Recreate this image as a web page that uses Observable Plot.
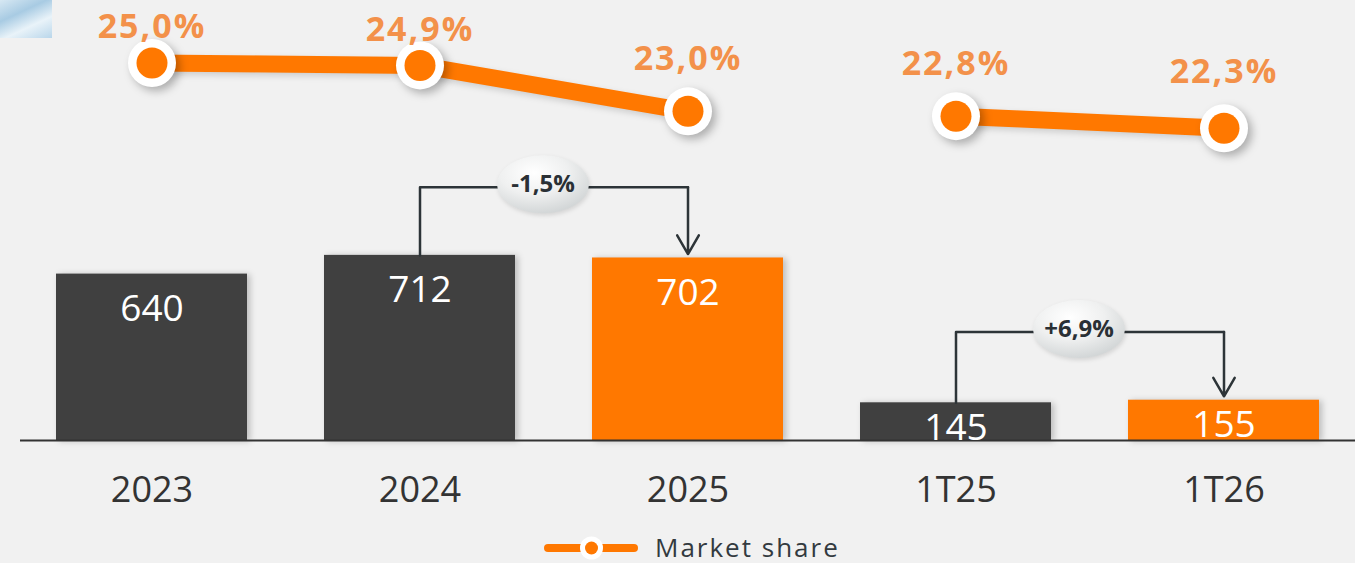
<!DOCTYPE html>
<html>
<head>
<meta charset="utf-8">
<script src="https://cdn.jsdelivr.net/npm/d3@7"></script>
<script src="https://cdn.jsdelivr.net/npm/@observablehq/plot@0.6"></script>
<style>
  body { margin: 0; background: #f1f1f1; font-family: "Open Sans", sans-serif; }
  #wrap { position: relative; width: 1355px; height: 563px; overflow: hidden; background: #f1f1f1; }
  #deco { position: absolute; left: 0; top: 0; width: 52px; height: 38px;
          background: linear-gradient(155deg, #d7e8f3 0%, #a8cbe3 35%, #e9f3f9 65%, #b9d6ea 100%); }
  #legend { position: absolute; left: 0; top: 528px; width: 1355px; height: 35px; }
</style>
</head>
<body>
<div id="wrap">
  <div id="deco"></div>
  <div id="legend">
    <svg width="1355" height="35">
      <line x1="548" x2="634" y1="20" y2="20" stroke="#ff7800" stroke-width="8" stroke-linecap="round"></line>
      <circle cx="591.5" cy="20" r="11.5" fill="#ffffff"></circle>
      <circle cx="591.5" cy="20" r="6.5" fill="#ff7800"></circle>
      <text x="655" y="28.5" font-family="Open Sans, sans-serif" font-size="26" letter-spacing="2" fill="#333a3f">Market share</text>
    </svg>
  </div>
</div>
<script>
// ---- data ----
const categories = ["2023", "2024", "2025", "1T25", "1T26"];
const sales = [640, 712, 702, 145, 155];
const highlighted = [false, false, true, false, true];
const marketShare = [25.0, 24.9, 23.0, 22.8, 22.3];
const shareLabels = ["25,0%", "24,9%", "23,0%", "22,8%", "22,3%"];
const periods = ["annual", "annual", "annual", "quarterly", "quarterly"];
const changeFrom = ["2024", "1T25"];
const changeTo = ["2025", "1T26"];
const changeLabels = ["-1,5%", "+6,9%"];

// ---- styling ----
const ORANGE = "#ff7800";
const DARK = "#404040";
const LABEL_ORANGE = "#f3914a";
const INK = "#2d3438";
const BUBBLE = "#eeeeee";

const rows = categories.map((c, i) => ({
  category: c, sales: sales[i], highlighted: highlighted[i],
  share: marketShare[i], shareLabel: shareLabels[i], period: periods[i], idx: i
}));
const val = c => sales[categories.indexOf(c)];
const bracketGap = 262;
const brackets = changeFrom.map((f, i) => ({
  from: f, to: changeTo[i], label: changeLabels[i],
  fromV: val(f), toV: val(changeTo[i]),
  top: Math.max(val(f), val(changeTo[i])) + bracketGap
}));
const bracketPath = brackets.flatMap((b, i) => [
  {x: b.from, y: b.fromV, g: i},
  {x: b.from, y: b.top, g: i},
  {x: b.to, y: b.top, g: i}
]);

const W = 1355, H = 528;
const xScale = {type: "band", domain: categories, paddingInner: 0.2886, paddingOuter: 0.130};
const common = {
  width: W, height: H, marginLeft: 20, marginRight: 0, marginTop: 0, marginBottom: H - 440,
  style: {background: "transparent", fontFamily: "Open Sans, sans-serif", color: "#333", overflow: "visible"}
};
const shareText = {x: "category", y: "share", text: "shareLabel", fill: LABEL_ORANGE, fontSize: 34, fontWeight: 700};

const barPlot = Plot.plot({
  ...common,
  x: {...xScale},
  y: {domain: [0, 1000], range: [440, 180], axis: null},
  color: {type: "identity"},
  marks: [
    Plot.barY(rows, {x: "category", y: "sales", fill: d => d.highlighted ? ORANGE : DARK}),
    Plot.ruleY([0], {stroke: "#333", strokeWidth: 1.8}),
    Plot.text(rows.filter(d => d.period === "annual"), {x: "category", y: "sales", text: d => String(d.sales), dy: 35, fill: "white", fontSize: 37}),
    Plot.text(rows.filter(d => d.period === "quarterly"), {x: "category", y: "sales", text: d => String(d.sales), dy: 25, fill: "white", fontSize: 37}),
    Plot.axisX({tickSize: 0, tickPadding: 36, fontSize: 36, fill: "#333", label: null}),
    Plot.line(bracketPath, {x: "x", y: "y", z: "g", stroke: INK, strokeWidth: 2.5}),
    Plot.arrow(brackets, {x1: "to", x2: "to", y1: "top", y2: d => d.toV + 15, stroke: INK, strokeWidth: 2.5, headLength: 13, headAngle: 60}),
    Plot.dot(brackets, {x: "from", y: "top", r: 28, dx: 123, dy: -3, fill: BUBBLE}),
    Plot.text(brackets, {x: "from", y: "top", text: "label", dx: 123, dy: -3, fontSize: 24, fontWeight: 700, fill: "#2a3035"})
  ]
});

const linePlot = Plot.plot({
  ...common,
  x: {...xScale, axis: null},
  y: {domain: [22, 25], range: [135, 62.5], axis: null},
  marks: [
    Plot.line(rows, {x: "category", y: "share", z: "period", stroke: ORANGE, strokeWidth: 17}),
    Plot.dot(rows, {x: "category", y: "share", r: 24, fill: "white"}),
    Plot.dot(rows, {x: "category", y: "share", r: 15.5, fill: ORANGE}),
    Plot.text(rows.filter(d => d.idx < 2), {...shareText, dy: -35.5}),
    Plot.text(rows.filter(d => d.idx === 2 || d.idx === 3), {...shareText, dy: -52}),
    Plot.text(rows.filter(d => d.idx === 4), {...shareText, dy: -56})
  ]
});

// ---- decorate ----
const NS = "http://www.w3.org/2000/svg";
[barPlot, linePlot].forEach(p => {
  p.style.position = "absolute";
  p.style.left = "0px";
  p.style.top = "0px";
});
const defs = document.createElementNS(NS, "defs");
const grad = document.createElementNS(NS, "radialGradient");
grad.setAttribute("id", "bubbleGrad");
grad.setAttribute("cx", "40%"); grad.setAttribute("cy", "30%"); grad.setAttribute("r", "75%");
[["0%", "#ffffff"], ["50%", "#eff0f0"], ["100%", "#cfd3d4"]].forEach(([o, c]) => {
  const s = document.createElementNS(NS, "stop");
  s.setAttribute("offset", o); s.setAttribute("stop-color", c);
  grad.appendChild(s);
});
defs.appendChild(grad);
barPlot.insertBefore(defs, barPlot.firstChild);

const bsel = d3.select(barPlot), lsel = d3.select(linePlot);
const bubbleG = bsel.selectAll(`g[aria-label="dot"]`).filter(function() { return this.getAttribute("fill") === BUBBLE; });
bubbleG.style("filter", "drop-shadow(1px 2px 2px rgba(0,0,0,0.12))");
bubbleG.selectAll("circle").each(function() {
  const e = document.createElementNS(NS, "ellipse");
  e.setAttribute("cx", this.getAttribute("cx") || 0);
  e.setAttribute("cy", this.getAttribute("cy") || 0);
  e.setAttribute("rx", 46);
  e.setAttribute("ry", 29);
  e.setAttribute("fill", "url(#bubbleGrad)");
  this.replaceWith(e);
});
bsel.selectAll(`g[aria-label="bar"]`).style("filter", "drop-shadow(3px 1px 3px rgba(0,0,0,0.22))");
lsel.selectAll(`g[aria-label="dot"]`).filter(function() { return this.getAttribute("fill") === "white"; })
  .style("filter", "drop-shadow(4px 4px 4px rgba(0,0,0,0.28))");
lsel.selectAll(`g[aria-label="line"]`).style("filter", "drop-shadow(2px 3px 3px rgba(0,0,0,0.15))");
lsel.selectAll(`g[aria-label="text"]`).style("letter-spacing", "2px");

const wrap = document.getElementById("wrap");
wrap.appendChild(barPlot);
wrap.appendChild(linePlot);
</script>
</body>
</html>
